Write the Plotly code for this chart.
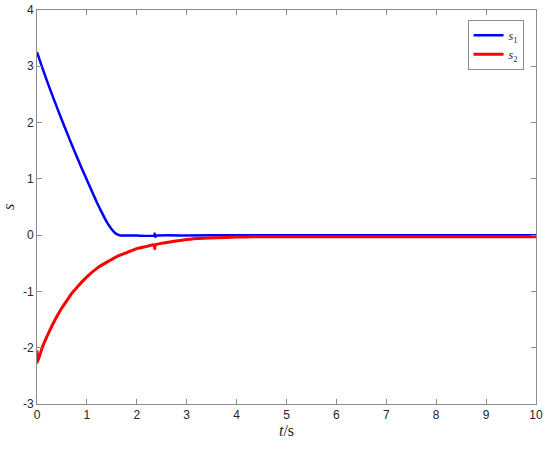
import plotly.graph_objects as go

# sliding variables
t_s1 = [0, 0.1, 0.2, 0.3, 0.4, 0.5, 0.6, 0.7, 0.8, 0.9, 1.0, 1.1, 1.2, 1.3,
        1.4, 1.5, 1.57, 1.63, 1.68, 1.8, 2.0, 2.35, 2.36, 2.37, 2.4, 3.0, 4.0, 10]
s1 = [3.25, 2.99, 2.74, 2.5, 2.27, 2.04, 1.82, 1.6, 1.39, 1.18, 0.98, 0.78, 0.58, 0.4,
      0.23, 0.1, 0.035, 0.005, -0.005, -0.006, -0.008, -0.008, 0.03, -0.03, -0.008, -0.005, 0.0, 0.0]

t_s2 = [0, 0.01, 0.1, 0.2, 0.3, 0.4, 0.5, 0.6, 0.7, 0.8, 0.9, 1.0, 1.2, 1.4, 1.6,
        1.8, 2.0, 2.2, 2.35, 2.36, 2.37, 2.6, 2.9, 3.2, 3.6, 4.0, 4.3, 10]
s2 = [-2.05, -2.26, -2.01, -1.8, -1.61, -1.44, -1.29, -1.16, -1.03, -0.93, -0.83, -0.74,
      -0.59, -0.48, -0.38, -0.31, -0.24, -0.2, -0.17, -0.24, -0.17, -0.13, -0.09, -0.06,
      -0.045, -0.035, -0.03, -0.03]

x_ticks = list(range(0, 11))
y_ticks = list(range(-3, 5))
x_labels = [str(v) for v in x_ticks]
y_labels = [str(v) for v in y_ticks]

fig = go.Figure()
fig.add_trace(go.Scatter(x=t_s1, y=s1, mode="lines", name="<i>s</i><sub>1</sub>",
                         line=dict(color="#0000ff", width=2.5, shape="spline", smoothing=0.4)))
fig.add_trace(go.Scatter(x=t_s2, y=s2, mode="lines", name="<i>s</i><sub>2</sub>",
                         line=dict(color="#ff0000", width=3, shape="spline", smoothing=0.4)))

axis_style = dict(
    showgrid=False, zeroline=False, showline=True, linecolor="#8c8c8c", linewidth=1,
    mirror="ticks", ticks="inside", ticklen=5, tickcolor="#8c8c8c", automargin=False,
    tickfont=dict(family="Liberation Sans", size=12, color="#262626"),
)
title_font = dict(family="Liberation Serif", size=16, color="#262626")

fig.update_xaxes(range=[0, 10], tickvals=x_ticks, ticktext=x_labels, **axis_style,
                 title=dict(text="<i>t</i>/s", standoff=2, font=title_font))
fig.update_yaxes(range=[-3, 4], tickvals=y_ticks, ticktext=y_labels, **axis_style,
                 title=dict(text="<i>s</i>", standoff=12, font=title_font))

fig.update_layout(
    width=550, height=449,
    margin=dict(l=37, r=14, t=10, b=45),
    plot_bgcolor="white", paper_bgcolor="white",
    legend=dict(x=0.975, y=0.975, xanchor="right", yanchor="top",
                bgcolor="white", bordercolor="#8c8c8c", borderwidth=1,
                font=dict(family="Liberation Serif", size=12, color="#262626"),
                tracegroupgap=0, itemwidth=30),
)

# drop the default 8px page margin so the figure sits at the window corner
fig.write_html("out.html", config={"displayModeBar": False},
               post_script="document.body.style.margin='0px';")
